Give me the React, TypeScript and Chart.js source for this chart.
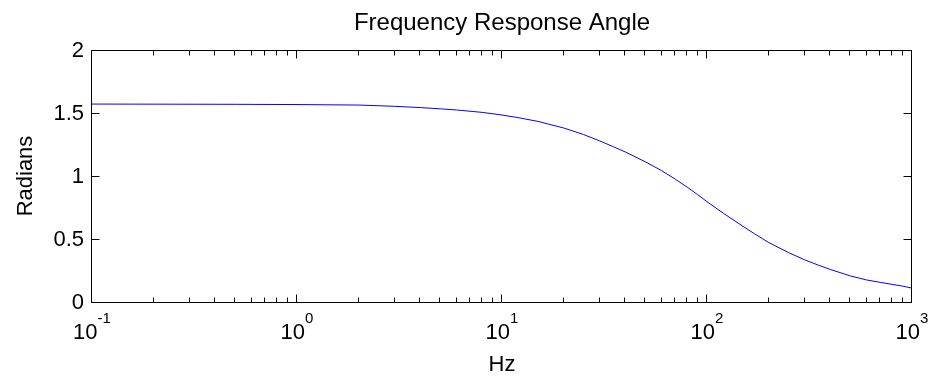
import React, { useEffect, useRef } from 'react';
import { Chart, registerables } from 'chart.js';

Chart.register(...registerables);

// Data
const freqHz = [0.1, 0.5, 1, 2, 3, 4, 5, 6, 8, 10, 12, 15, 20, 25, 30, 35, 40, 50, 60, 70, 80, 90, 100, 120, 150, 170, 200, 250, 300, 350, 400, 500, 600, 700, 800, 900, 1000];
const angleRad = [1.571, 1.569, 1.567, 1.563, 1.553, 1.543, 1.533, 1.524, 1.505, 1.484, 1.463, 1.433, 1.381, 1.329, 1.278, 1.232, 1.19, 1.113, 1.043, 0.975, 0.912, 0.852, 0.796, 0.705, 0.6, 0.543, 0.472, 0.392, 0.334, 0.292, 0.258, 0.207, 0.175, 0.156, 0.14, 0.126, 0.11];

const yTickValues = [0, 0.5, 1, 1.5, 2];
const yTickLabels = ['0', '0.5', '1', '1.5', '2'];
const xMajorExponents = [-1, 0, 1, 2, 3];
const xMinorMultipliers = [2, 3, 4, 5, 6, 7, 8, 9];

const titleText = 'Frequency Response Angle';
const xLabelText = 'Hz';
const yLabelText = 'Radians';

const FONT = '"Liberation Sans", Arial, Helvetica, sans-serif';

const matlabAxes = {
  id: 'matlabAxes',
  afterDatasetsDraw(chart: any) {
    const { ctx, chartArea } = chart;
    const { left, right, top, bottom } = chartArea;
    const xs = chart.scales.x;
    const ys = chart.scales.y;
    ctx.save();
    ctx.strokeStyle = '#000';
    ctx.fillStyle = '#000';
    ctx.lineWidth = 1;

    const L = Math.round(left) - 0.5;
    const R = Math.round(right) - 0.5;
    const T = Math.round(top) + 0.5;
    const B = Math.round(bottom) + 0.5;

    // box
    ctx.beginPath();
    ctx.rect(L, T, R - L, B - T);
    ctx.stroke();

    // x ticks
    const drawXTick = (v: number, len: number) => {
      const px = Math.round(xs.getPixelForValue(v)) - 0.5;
      ctx.beginPath();
      ctx.moveTo(px, B);
      ctx.lineTo(px, B - len);
      ctx.moveTo(px, T);
      ctx.lineTo(px, T + len);
      ctx.stroke();
    };
    xMajorExponents.forEach((e, i) => {
      drawXTick(Math.pow(10, e), 8);
      if (i < xMajorExponents.length - 1) {
        xMinorMultipliers.forEach((m) => drawXTick(m * Math.pow(10, e), 5));
      }
    });

    // y ticks
    yTickValues.forEach((v) => {
      const py = Math.round(ys.getPixelForValue(v)) + 0.5;
      ctx.beginPath();
      ctx.moveTo(L, py);
      ctx.lineTo(L + 8, py);
      ctx.moveTo(R, py);
      ctx.lineTo(R - 8, py);
      ctx.stroke();
    });

    // y tick labels
    ctx.font = '22px ' + FONT;
    ctx.textAlign = 'right';
    ctx.textBaseline = 'middle';
    yTickValues.forEach((v, i) => {
      ctx.fillText(yTickLabels[i], left - 8, ys.getPixelForValue(v) + 1);
    });

    // x tick labels: 10 with superscript exponent
    ctx.textBaseline = 'alphabetic';
    ctx.textAlign = 'left';
    xMajorExponents.forEach((e) => {
      const px = xs.getPixelForValue(Math.pow(10, e));
      ctx.font = '22px ' + FONT;
      const wBase = ctx.measureText('10').width;
      ctx.font = '15px ' + FONT;
      const expStr = String(e);
      const wExp = ctx.measureText(expStr).width;
      const start = px - (wBase + wExp) / 2;
      ctx.font = '22px ' + FONT;
      ctx.fillText('10', start, bottom + 37);
      ctx.font = '15px ' + FONT;
      ctx.fillText(expStr, start + wBase, bottom + 21);
    });

    // x axis label
    const cx = (left + right) / 2;
    ctx.font = '22px ' + FONT;
    ctx.textAlign = 'center';
    ctx.fillText(xLabelText, cx, bottom + 69);

    // title
    ctx.font = '24px ' + FONT;
    ctx.fillText(titleText, cx, 29.5);

    // y axis label
    ctx.save();
    ctx.translate(32, (top + bottom) / 2);
    ctx.rotate(-Math.PI / 2);
    ctx.font = '22px ' + FONT;
    ctx.textAlign = 'center';
    ctx.fillText(yLabelText, 0, 0);
    ctx.restore();

    ctx.restore();
  },
};

export default function App() {
  const canvasRef = useRef<HTMLCanvasElement | null>(null);

  useEffect(() => {
    const canvas = canvasRef.current;
    if (!canvas) return;
    const points = freqHz.map((f, i) => ({ x: f, y: angleRad[i] }));
    const chart = new Chart(canvas, {
      type: 'line',
      data: {
        datasets: [
          {
            data: points,
            borderColor: '#0000ff',
            borderWidth: 1,
            pointRadius: 0,
            tension: 0,
            fill: false,
          },
        ],
      },
      options: {
        animation: false,
        responsive: false,
        devicePixelRatio: 1,
        layout: { padding: { left: 92, right: 22, top: 50, bottom: 74 } },
        plugins: {
          legend: { display: false },
          tooltip: { enabled: false },
          title: { display: false },
        },
        scales: {
          x: { type: 'logarithmic', min: 0.1, max: 1000, display: false },
          y: { type: 'linear', min: 0, max: 2, display: false },
        },
      },
      plugins: [matlabAxes],
    } as any);
    return () => chart.destroy();
  }, []);

  return (
    <div style={{ position: 'fixed', left: 0, top: 0, width: 934, height: 376, background: '#fff' }}>
      <canvas ref={canvasRef} width={934} height={376} style={{ width: 934, height: 376 }} />
    </div>
  );
}
